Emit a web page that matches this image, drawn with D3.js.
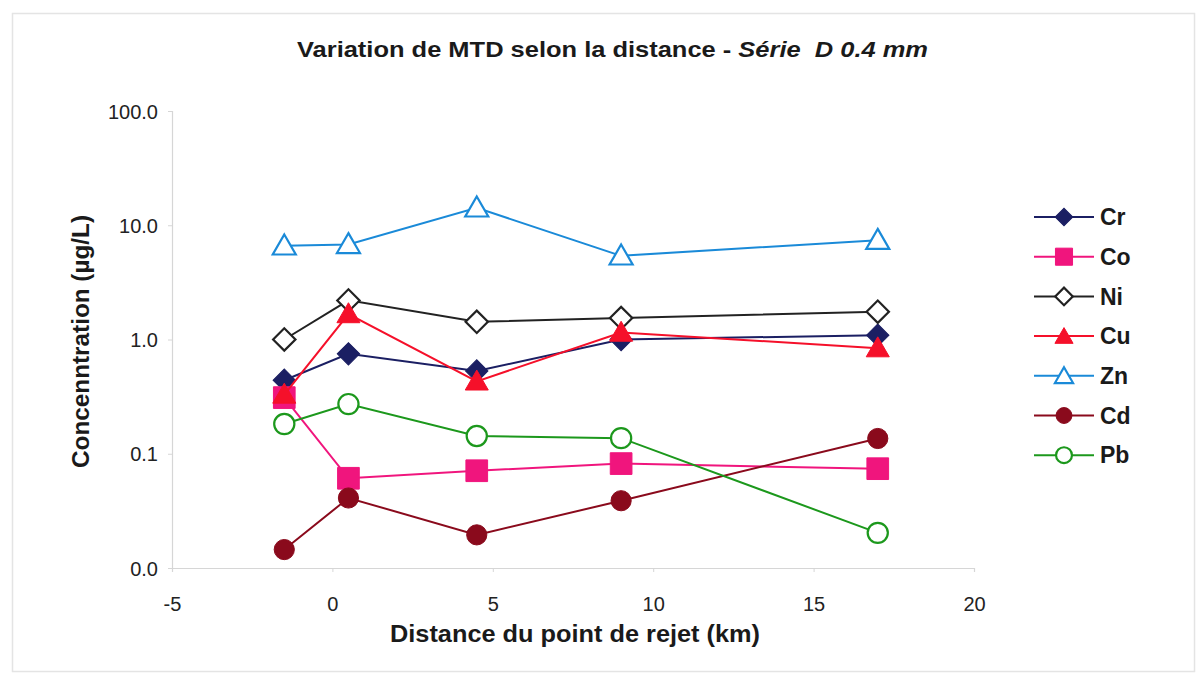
<!DOCTYPE html>
<html>
<head>
<meta charset="utf-8">
<script src="https://cdn.jsdelivr.net/npm/d3@7"></script>
<style>
  body { margin: 0; background: #fff; }
  svg { display: block; font-family: "Liberation Sans", Arial, sans-serif; }
  text { white-space: pre; }
</style>
</head>
<body>
<svg id="chart" width="1204" height="676"></svg>
<script>
// distances (km)
const distances = [-1.5, 0.5, 4.5, 9, 17];

// concentrations (µg/L)
const cr = [0.44, 0.75, 0.53, 1.0, 1.09];
const co = [0.31, 0.061, 0.071, 0.082, 0.074];
const ni = [1.0, 2.2, 1.43, 1.54, 1.75];
const cu = [0.33, 1.67, 0.43, 1.15, 0.84];
const zn = [6.6, 6.8, 14.2, 5.4, 7.4];
const cd = [0.0145, 0.041, 0.0195, 0.0388, 0.136];
const pb = [0.182, 0.272, 0.143, 0.137, 0.0203];

const seriesNames = ["Cr", "Co", "Ni", "Cu", "Zn", "Cd", "Pb"];
const seriesValues = [cr, co, ni, cu, zn, cd, pb];

const yTicks = [0.01, 0.1, 1, 10, 100];
const xTicks = [-5, 0, 5, 10, 15, 20];

const styles = {
  Cr: { color: "#1b1f63", shape: "diamond", fill: true },
  Co: { color: "#f0157d", shape: "square", fill: true },
  Ni: { color: "#222222", shape: "diamond", fill: false },
  Cu: { color: "#f5102a", shape: "triangle", fill: true },
  Zn: { color: "#1a8ad8", shape: "triangle", fill: false },
  Cd: { color: "#8a0a1c", shape: "circle", fill: true },
  Pb: { color: "#1c981c", shape: "circle", fill: false },
};

const svg = d3.select("#chart");

// faint scanned frame
svg.append("rect")
  .attr("x", 12.5).attr("y", 13.5)
  .attr("width", 1182).attr("height", 658)
  .attr("fill", "none")
  .attr("stroke", "#e4e4e4")
  .attr("stroke-width", 1.5);

const x = d3.scaleLinear().domain([-5, 20]).range([172, 974]);
const y = d3.scaleLog().domain([0.01, 100]).range([568, 111]);

// axes
const axisColor = "#d6d6d6";
const xAxis = svg.append("g")
  .attr("transform", `translate(0, ${y(0.01)})`)
  .call(d3.axisBottom(x).tickValues(xTicks).tickSize(4).tickPadding(25).tickFormat((d) => String(d)));
const yAxis = svg.append("g")
  .attr("transform", `translate(${x(-5)}, 0)`)
  .call(d3.axisLeft(y).tickValues(yTicks).tickSize(4).tickPadding(10).tickFormat((d) => d.toFixed(1)));

[xAxis, yAxis].forEach((g) => {
  g.select(".domain").attr("stroke", axisColor).attr("stroke-width", 1.2);
  g.selectAll(".tick line").attr("stroke", axisColor);
  g.selectAll(".tick text")
    .attr("fill", "#222")
    .attr("font-size", 20)
    .attr("font-family", "Liberation Sans, Arial, sans-serif");
});
yAxis.selectAll(".tick text").attr("dy", "0.36em");

// marker shapes
function markerPath(shape, scale) {
  const sizes = { diamond: 250, square: 470, triangle: 230, circle: 320 };
  const types = {
    diamond: d3.symbolSquare,
    square: d3.symbolSquare,
    triangle: d3.symbolTriangle,
    circle: d3.symbolCircle,
  };
  return d3.symbol().type(types[shape]).size(sizes[shape] * scale)();
}

function drawMarker(g, st, cx, cy, scale) {
  const p = g.append("path")
    .attr("d", markerPath(st.shape, scale))
    .attr("fill", st.fill ? st.color : "#fff")
    .attr("stroke", st.color)
    .attr("stroke-width", st.fill ? 1 : 2.2);
  let t = `translate(${cx}, ${cy})`;
  if (st.shape === "diamond") t += " rotate(45)";
  if (st.shape === "triangle") t += " translate(0, 2)";
  p.attr("transform", t);
}

const line = d3.line()
  .x((d) => x(d[0]))
  .y((d) => y(d[1]));

// data series
seriesNames.forEach((name, i) => {
  const st = styles[name];
  const pts = distances.map((d, j) => [d, seriesValues[i][j]]);
  const g = svg.append("g");
  g.append("path")
    .datum(pts)
    .attr("fill", "none")
    .attr("stroke", st.color)
    .attr("stroke-width", 2)
    .attr("d", line);
  pts.forEach((p) => drawMarker(g, st, x(p[0]), y(p[1]), 1));
});

// legend
const legend = svg.append("g");
seriesNames.forEach((name, i) => {
  const st = styles[name];
  const cy = 217 + i * 39.7;
  legend.append("line")
    .attr("x1", 1034).attr("x2", 1094)
    .attr("y1", cy).attr("y2", cy)
    .attr("stroke", st.color)
    .attr("stroke-width", 2);
  drawMarker(legend, st, 1064, cy, 0.62);
  legend.append("text")
    .attr("x", 1100).attr("y", cy)
    .attr("dy", "0.36em")
    .attr("font-size", 23)
    .attr("font-weight", "bold")
    .attr("fill", "#1a1a1a")
    .text(name);
});

// title
const title = svg.append("text")
  .attr("x", 297).attr("y", 57)
  .attr("textLength", 631)
  .attr("lengthAdjust", "spacingAndGlyphs")
  .attr("font-size", 22)
  .attr("font-weight", "bold")
  .attr("fill", "#1a1a1a");
title.append("tspan").text("Variation de MTD selon la distance - ");
title.append("tspan").attr("font-style", "italic").text("Série  D 0.4 mm");

// axis titles
svg.append("text")
  .attr("x", 390).attr("y", 642)
  .attr("textLength", 370)
  .attr("lengthAdjust", "spacingAndGlyphs")
  .attr("font-size", 23)
  .attr("font-weight", "bold")
  .attr("fill", "#1a1a1a")
  .text("Distance du point de rejet (km)");

svg.append("text")
  .attr("transform", "translate(89, 468) rotate(-90)")
  .attr("textLength", 253)
  .attr("lengthAdjust", "spacingAndGlyphs")
  .attr("font-size", 23)
  .attr("font-weight", "bold")
  .attr("fill", "#1a1a1a")
  .text("Concenntration (µg/L)");
</script>
</body>
</html>
